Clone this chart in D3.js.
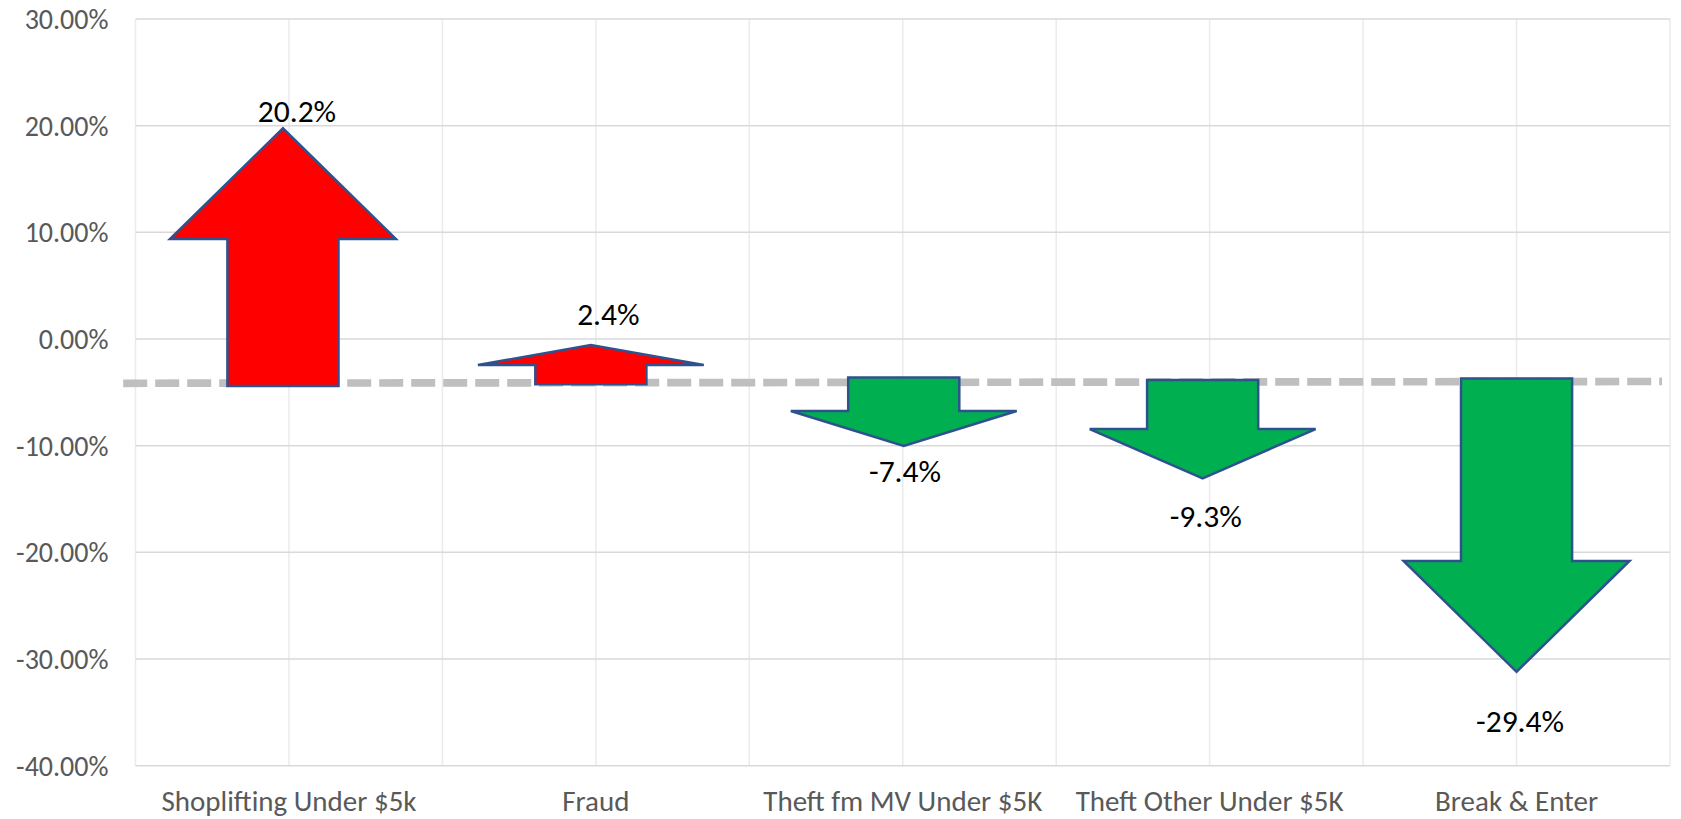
<!DOCTYPE html>
<html>
<head>
<meta charset="utf-8">
<script src="https://cdn.jsdelivr.net/npm/d3@7/dist/d3.min.js"></script>
<style>
  html, body { margin: 0; padding: 0; background: #ffffff; }
  svg { display: block; }
  text { font-family: Carlito, Calibri, Lato, "Open Sans", sans-serif; }
</style>
</head>
<body>
<svg id="chart" width="1681" height="819"></svg>
<script>
// ---------------- DATA ----------------
const categories = ["Shoplifting Under $5k", "Fraud", "Theft fm MV Under $5K", "Theft Other Under $5K", "Break & Enter"];
const changeLabels = [20.2, 2.4, -7.4, -9.3, -29.4];          // % change (label values)
const arrowBase     = [-4.4, -4.25, -3.6, -3.84, -3.69];       // % where arrow starts
const arrowShoulder = [9.37, -2.44, -6.75, -8.44, -20.8];      // % where head begins
const arrowTip      = [19.75, -0.56, -10.03, -13.06, -31.2];   // % where arrow point is
const yTicks = [30, 20, 10, 0, -10, -20, -30, -40];
const referenceLine = [ { at: -0.54, value: -4.15 }, { at: 4.474, value: -3.98 } ]; // dashed line

// ---------------- LAYOUT ----------------
const W = 1681, H = 819;
const plot = { left: 135.5, right: 1670, top: 19, bottom: 765.7 };
const shaftFrac = 0.362, headFrac = 0.736;
const arrowDx = [-6, -5, 1, -7, 0];                 // px nudge of each arrow from band centre
const labelDx = [8, 12.5, 2.3, -4, 3.5];            // px nudge of each label from band centre
const labelDy = [-6, -20, 35.7, 48.4, 59.9];        // px from arrow tip to label baseline

const svg = d3.select("#chart");

const x = d3.scaleBand().domain(categories).range([plot.left, plot.right]).paddingInner(0).paddingOuter(0);
const xc = d3.scaleLinear().domain([-0.5, categories.length - 0.5]).range([plot.left, plot.right]);
const y = d3.scaleLinear().domain([-40, 30]).range([plot.bottom, plot.top]);

// vertical gridlines (band edges and centres)
const vLines = [];
for (let i = 0; i <= categories.length * 2; i++) vLines.push(-0.5 + i * 0.5);
svg.append("g").selectAll("line").data(vLines).join("line")
  .attr("x1", d => xc(d)).attr("x2", d => xc(d))
  .attr("y1", plot.top).attr("y2", plot.bottom)
  .attr("stroke", "#ebebeb").attr("stroke-width", 1.5);

// horizontal gridlines
svg.append("g").selectAll("line").data(yTicks).join("line")
  .attr("x1", plot.left).attr("x2", plot.right)
  .attr("y1", d => y(d)).attr("y2", d => y(d))
  .attr("stroke", "#d9d9d9").attr("stroke-width", 1.5);

// y axis labels
const yAxis = d3.axisLeft(y).tickValues(yTicks).tickSize(0).tickPadding(0)
  .tickFormat(d => d.toFixed(2) + "%");
const gy = svg.append("g").attr("transform", `translate(108.5,0)`).call(yAxis);
gy.select(".domain").remove();
gy.selectAll("text")
  .attr("fill", "#595959").attr("font-size", 28)
  .attr("dy", null).attr("dominant-baseline", "central")
  .style("font-family", "Carlito, Calibri, Lato, sans-serif");

// x axis labels
const xAxis = d3.axisBottom(x).tickSize(0).tickPadding(0);
const gx = svg.append("g").attr("transform", `translate(0,810.7)`).call(xAxis);
gx.select(".domain").remove();
gx.selectAll("text")
  .attr("fill", "#595959").attr("font-size", 29)
  .attr("y", 0).attr("dy", null)
  .style("font-family", "Carlito, Calibri, Lato, sans-serif");

// dashed reference line
svg.append("line")
  .attr("x1", xc(referenceLine[0].at)).attr("y1", y(referenceLine[0].value))
  .attr("x2", xc(referenceLine[1].at)).attr("y2", y(referenceLine[1].value))
  .attr("stroke", "#bfbfbf").attr("stroke-width", 7.7)
  .attr("stroke-dasharray", "24,8");

// arrows
const arrows = categories.map((c, i) => ({
  cat: c, label: changeLabels[i], base: arrowBase[i], shoulder: arrowShoulder[i], tip: arrowTip[i], i
}));
function arrowPath(d) {
  const cx = x(d.cat) + x.bandwidth() / 2 + arrowDx[d.i];
  const hs = x.bandwidth() * shaftFrac / 2;
  const hh = x.bandwidth() * headFrac / 2;
  const yb = y(d.base), ys = y(d.shoulder), yt = y(d.tip);
  return `M${cx - hs},${yb} L${cx - hs},${ys} L${cx - hh},${ys} L${cx},${yt} ` +
         `L${cx + hh},${ys} L${cx + hs},${ys} L${cx + hs},${yb} Z`;
}
svg.append("g").selectAll("path").data(arrows).join("path")
  .attr("d", arrowPath)
  .attr("fill", d => d.label >= 0 ? "#ff0000" : "#00b050")
  .attr("stroke", "#2f528f").attr("stroke-width", 2.5)
  .attr("stroke-linejoin", "miter");

// labels
svg.append("g").selectAll("text").data(arrows).join("text")
  .attr("x", d => x(d.cat) + x.bandwidth() / 2 + labelDx[d.i])
  .attr("y", d => y(d.tip) + labelDy[d.i])
  .attr("text-anchor", "middle")
  .attr("font-size", 31.5).attr("fill", "#000000")
  .text(d => d.label.toFixed(1) + "%");
</script>
</body>
</html>
